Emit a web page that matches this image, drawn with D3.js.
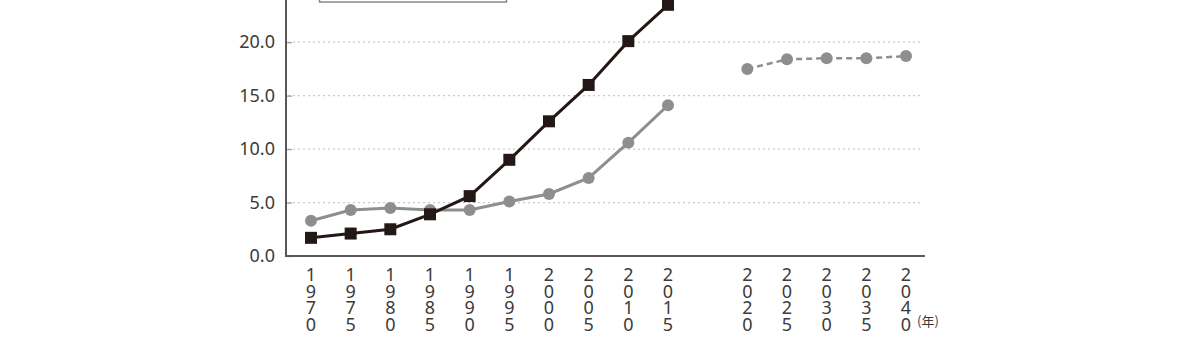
<!DOCTYPE html>
<html>
<head>
<meta charset="utf-8">
<script src="https://cdn.jsdelivr.net/npm/d3@7"></script>
<style>
  html, body { margin: 0; padding: 0; background: #fff; }
  svg { display: block; }
  text { font-family: "Noto Sans", "Noto Sans CJK JP", sans-serif; fill: #3e3a39; }
</style>
</head>
<body>
<svg id="chart" width="1200" height="360"></svg>
<script>
// ---- data ----
const years = ["1970","1975","1980","1985","1990","1995","2000","2005","2010","2015","gap","2020","2025","2030","2035","2040"];
const histYears = ["1970","1975","1980","1985","1990","1995","2000","2005","2010","2015"];
const blackSeries = [1.7, 2.1, 2.5, 3.9, 5.6, 9.0, 12.6, 16.0, 20.1, 23.5];
const graySeries = [3.3, 4.3, 4.5, 4.3, 4.3, 5.1, 5.8, 7.3, 10.6, 14.1];
const projYears = ["2020","2025","2030","2035","2040"];
const grayProjection = [17.5, 18.4, 18.5, 18.5, 18.7];
const yTicks = [0, 5, 10, 15, 20];
const unitLabel = "(年)";

// ---- layout ----
const svg = d3.select("#chart");
const axisLeft = 286, axisRight = 925, axisBottom = 256;
const x = d3.scalePoint().domain(years).range([311, 906]);
const y = d3.scaleLinear().domain([0, 25]).range([axisBottom, axisBottom - 25 * 10.69]);

// legend box (mostly above visible area)
svg.append("rect")
  .attr("x", 319.5).attr("y", -60).attr("width", 187).attr("height", 62)
  .attr("fill", "none").attr("stroke", "#8a8787").attr("stroke-width", 1.5);

// grid lines
svg.append("g").selectAll("line").data(yTicks.filter(d => d > 0)).join("line")
  .attr("x1", axisLeft + 2).attr("x2", axisRight - 2)
  .attr("y1", d => y(d)).attr("y2", d => y(d))
  .attr("stroke", "#c9caca").attr("stroke-width", 1.3).attr("stroke-dasharray", "2,3");

// y axis labels via d3.axisLeft
const yAxis = svg.append("g").attr("transform", `translate(${axisLeft},0)`)
  .call(d3.axisLeft(y).tickValues(yTicks).tickFormat(d3.format(".1f")).tickSize(-6).tickPadding(11));
yAxis.select(".domain").remove();
yAxis.selectAll(".tick line").attr("stroke", "#9fa0a0").attr("stroke-width", 1.3);
yAxis.selectAll(".tick text").style("font-size", "18px").attr("fill", "#3e3a39")
  .attr("font-family", null);

// axis lines
svg.append("line").attr("x1", axisLeft).attr("x2", axisLeft).attr("y1", -5).attr("y2", axisBottom)
  .attr("stroke", "#595757").attr("stroke-width", 2);
svg.append("line").attr("x1", axisLeft - 1).attr("x2", axisRight).attr("y1", axisBottom).attr("y2", axisBottom)
  .attr("stroke", "#595757").attr("stroke-width", 2);

// x tick labels (vertical stacked digits)
const xl = svg.append("g");
years.filter(d => d !== "gap").forEach(yr => {
  const t = xl.append("text").attr("text-anchor", "middle").style("font-size", "18px");
  yr.split("").forEach((ch, i) => {
    t.append("tspan").attr("x", x(yr)).attr("y", 281 + i * 16.7).text(ch);
  });
});
svg.append("text").attr("x", 917).attr("y", 326).style("font-size", "13px")
  .style("font-family", "'Noto Sans CJK JP', sans-serif").text(unitLabel);

// series
const grayData = histYears.map((d, i) => ({k: d, v: graySeries[i]}));
const blackData = histYears.map((d, i) => ({k: d, v: blackSeries[i]}));
const projData = projYears.map((d, i) => ({k: d, v: grayProjection[i]}));
const line = d3.line().x(d => x(d.k)).y(d => y(d.v));

svg.append("path").datum(grayData).attr("d", line)
  .attr("fill", "none").attr("stroke", "#8e8e8e").attr("stroke-width", 3);
svg.append("g").selectAll("circle").data(grayData).join("circle")
  .attr("cx", d => x(d.k)).attr("cy", d => y(d.v)).attr("r", 6).attr("fill", "#8e8e8e");

svg.append("path").datum(projData).attr("d", line)
  .attr("fill", "none").attr("stroke", "#8e8e8e").attr("stroke-width", 2.5).attr("stroke-dasharray", "6,4");
svg.append("g").selectAll("circle").data(projData).join("circle")
  .attr("cx", d => x(d.k)).attr("cy", d => y(d.v)).attr("r", 6).attr("fill", "#8e8e8e");

svg.append("path").datum(blackData).attr("d", line)
  .attr("fill", "none").attr("stroke", "#231815").attr("stroke-width", 3);
svg.append("g").selectAll("rect").data(blackData).join("rect")
  .attr("x", d => x(d.k) - 6).attr("y", d => y(d.v) - 6).attr("width", 12).attr("height", 12)
  .attr("fill", "#231815");
</script>
</body>
</html>
